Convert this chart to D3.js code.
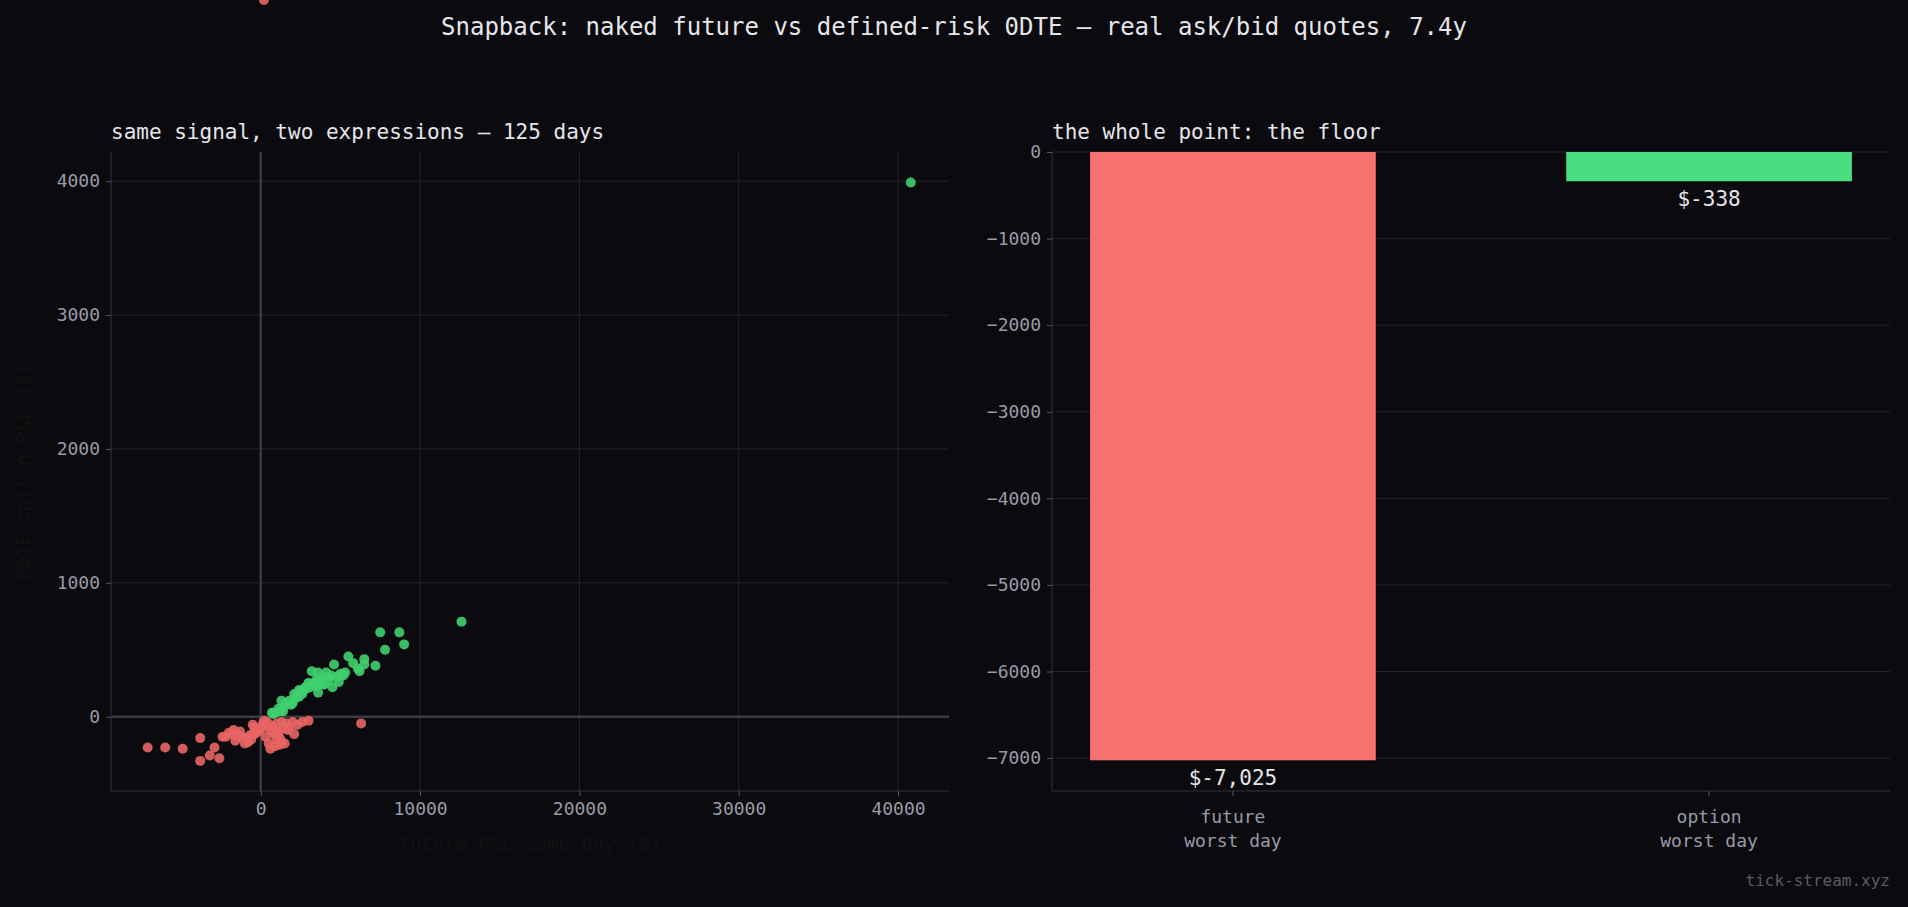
<!DOCTYPE html>
<html><head><meta charset="utf-8">
<script src="https://cdn.jsdelivr.net/npm/d3@7"></script>
<style>body{margin:0;background:#0b0b0f;}svg{display:block;font-family:"DejaVu Sans Mono",monospace;}</style>
</head><body><svg id="c" width="1908" height="907"></svg>
<script>
const futurePnl = [40800,12600,7500,8700,9000,7800,5500,6500,6500,7200,6200,5200,4800,4300,4000,3600,3200,5000,4200,3800,3500,3000,2800,2600,2400,2200,2000,4600,4100,3900,3400,3100,2900,2500,2300,1800,1500,1200,900,5800,6100,4400,3700,3300,2700,2100,1600,1100,700,1300,4900,5300,3600,2600,3000,3500,3900,4500,2400,1900,1400,800,
 -7100,-6000,-4900,-3800,-3800,-3200,-2900,-2600,-2400,-2000,-1800,-1500,-1200,-900,-600,-400,-200,-1600,-1000,-700,-300,-100,100,300,500,700,900,1100,1300,1500,-500,200,400,600,800,1000,1200,1400,1600,1800,2000,2300,2600,3000,6300,600,900,1200,-800,-1300,-2200,-1700,-1100,-500,100,300,500,800,1000,1300,700,1100,1700,400,2100,-400,200];
const optionPnl = [3990,710,630,630,540,500,450,430,390,380,340,310,300,280,240,330,340,320,300,260,230,250,220,190,150,140,100,390,330,290,240,220,210,180,160,120,80,40,30,400,360,310,270,250,200,170,100,60,30,120,260,330,180,170,250,280,240,220,200,90,40,20,
 -230,-230,-240,-160,-330,-290,-230,-310,-150,-120,-130,-140,-150,-160,-170,-130,-110,-180,-200,-140,-120,-100,-60,-50,-70,-90,-120,-150,-40,-200,-60,-30,-40,-100,-130,-170,-210,-90,-50,-80,-40,-60,-40,-30,-50,-240,-220,-160,-190,-110,-150,-100,-160,-130,-80,-150,-200,-90,-50,-190,-70,-110,-100,-70,-130,-80];
const xTicks = [0,10000,20000,30000,40000];
const yTicks = [0,1000,2000,3000,4000];
const barCats = ["future\nworst day","option\nworst day"];
const barVals = [-7025,-338];
const barLabels = ["$-7,025","$-338"];
const barTicks = [0,-1000,-2000,-3000,-4000,-5000,-6000,-7000];

const svg = d3.select("#c");
svg.append("rect").attr("width",1908).attr("height",907).attr("fill","#0b0b0f");
const grid="#222228", txt="#9a9aa6", white="#e6e6ea";
svg.append("text").attr("x",954).attr("y",35).attr("text-anchor","middle").attr("fill",white).attr("font-size",24).text("Snapback: naked future vs defined-risk 0DTE — real ask/bid quotes, 7.4y");

// Left scatter
const L={l:111,r:949,t:152,b:791};
const x=d3.scaleLinear().domain([-9400,43200]).range([L.l,L.r]);
const y=d3.scaleLinear().domain([-555,4218]).range([L.b,L.t]);
const gl=svg.append("g");
xTicks.forEach(t=>gl.append("line").attr("x1",x(t)).attr("x2",x(t)).attr("y1",L.t).attr("y2",L.b).attr("stroke",grid));
yTicks.forEach(t=>gl.append("line").attr("x1",L.l).attr("x2",L.r).attr("y1",y(t)).attr("y2",y(t)).attr("stroke",grid));
gl.append("line").attr("x1",x(0)).attr("x2",x(0)).attr("y1",L.t).attr("y2",L.b).attr("stroke","#3a3a44").attr("stroke-width",2.5);
gl.append("line").attr("x1",L.l).attr("x2",L.r).attr("y1",y(0)).attr("y2",y(0)).attr("stroke","#3a3a44").attr("stroke-width",2.5);
const ax=svg.append("g").attr("transform",`translate(0,${L.b})`).call(d3.axisBottom(x).tickValues(xTicks).tickFormat(d3.format("d")).tickSize(5).tickPadding(6));
const ay=svg.append("g").attr("transform",`translate(${L.l},0)`).call(d3.axisLeft(y).tickValues(yTicks).tickFormat(d3.format("d")).tickSize(5).tickPadding(6));
[ax,ay].forEach(a=>{a.select(".domain").attr("stroke","#33333b");a.selectAll("line").attr("stroke","#55555f");a.selectAll("text").attr("fill",txt).attr("font-size",18).attr("font-family","DejaVu Sans Mono");});
ay.select(".domain").attr("d",`M0,${L.t}V${L.b}`);
ax.select(".domain").attr("d",`M${L.l},0H${L.r}`);
svg.append("text").attr("x",(L.l+L.r)/2).attr("y",850).attr("text-anchor","middle").attr("fill","#111").attr("font-size",19).text("future P&L same day ($)");
svg.append("text").attr("transform",`translate(30,${(L.t+L.b)/2}) rotate(-90)`).attr("text-anchor","middle").attr("fill","#111").attr("font-size",19).text("0DTE option P&L ($)");
svg.append("text").attr("x",L.l).attr("y",139).attr("fill",white).attr("font-size",21).text("same signal, two expressions — 125 days");
const pts=futurePnl.map((f,i)=>({f,o:optionPnl[i]}));
svg.append("g").selectAll("circle").data(pts).join("circle").attr("cx",d=>x(d.f)).attr("cy",d=>y(d.o)).attr("r",5)
 .attr("fill",d=>d.o>=0?"#3fcf6f":"#e86464").attr("fill-opacity",0.9);

// Right bars
const R={l:1052,r:1890,t:152,b:791};
const bx=d3.scaleBand().domain(barCats).range([R.l,R.r]).paddingInner(0.4).paddingOuter(0.08);
const by=d3.scaleLinear().domain([-7380,0]).range([R.b,R.t]);
barTicks.forEach(t=>svg.append("line").attr("x1",R.l).attr("x2",R.r).attr("y1",by(t)).attr("y2",by(t)).attr("stroke",grid));
svg.selectAll(".bar").data(barVals).join("rect").attr("x",(d,i)=>bx(barCats[i])).attr("width",bx.bandwidth())
 .attr("y",by(0)).attr("height",d=>by(d)-by(0)).attr("fill",(d,i)=>i==0?"#f87171":"#4ade80");
barVals.forEach((v,i)=>svg.append("text").attr("x",bx(barCats[i])+bx.bandwidth()/2).attr("y",by(v)+25).attr("text-anchor","middle").attr("fill",white).attr("font-size",21).text(barLabels[i]));
const bay=svg.append("g").attr("transform",`translate(${R.l},0)`).call(d3.axisLeft(by).tickValues(barTicks).tickFormat(d=>d<0?"−"+(-d):d).tickSize(5).tickPadding(6));
const bax=svg.append("g").attr("transform",`translate(0,${R.b})`).call(d3.axisBottom(bx).tickSize(5).tickFormat(""));
[bax,bay].forEach(a=>{a.select(".domain").attr("stroke","#33333b");a.selectAll("line").attr("stroke","#55555f");a.selectAll("text").attr("fill",txt).attr("font-size",18).attr("font-family","DejaVu Sans Mono");});
bay.select(".domain").attr("d",`M0,${R.t}V${R.b}`);
bax.select(".domain").attr("d",`M${R.l},0H${R.r}`);
barCats.forEach(c=>{const t=svg.append("text").attr("text-anchor","middle").attr("fill",txt).attr("font-size",18);
 c.split("\n").forEach((s,j)=>t.append("tspan").attr("x",bx(c)+bx.bandwidth()/2).attr("y",823+j*24).text(s));});
svg.append("text").attr("x",R.l).attr("y",139).attr("fill",white).attr("font-size",21).text("the whole point: the floor");
svg.append("text").attr("x",1890).attr("y",886).attr("text-anchor","end").attr("fill","#5a5a64").attr("font-size",16).text("tick-stream.xyz");
</script></body></html>
